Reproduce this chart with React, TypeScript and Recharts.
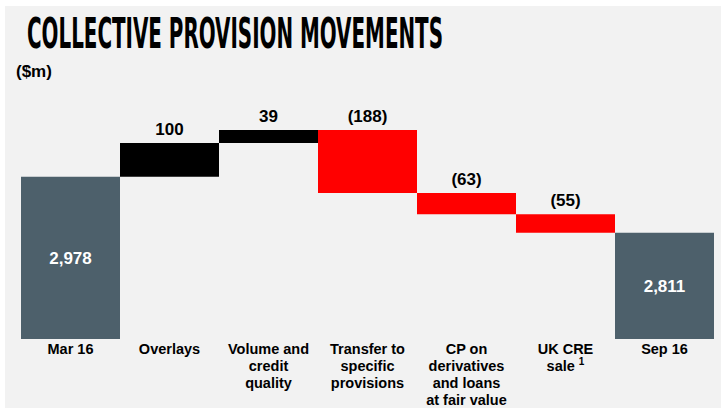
import { Bar, BarChart, Cell, LabelList, XAxis, YAxis } from 'recharts';

const categories = [
  'Mar 16',
  'Overlays',
  'Volume and\ncredit\nquality',
  'Transfer to\nspecific\nprovisions',
  'CP on\nderivatives\nand loans\nat fair value',
  'UK CRE\nsale ^1',
  'Sep 16',
];
const movements = [2978, 100, 39, -188, -63, -55, 2811];
const isTotal = [true, false, false, false, false, false, true];

const TOTAL_COLOR = '#4d606b';
const UP_COLOR = '#000000';
const DOWN_COLOR = '#ff0000';

// waterfall rows: totals are plain numbers, movements are [low, high] ranges
let running = 0;
const data = categories.map((name, i) => {
  const v = movements[i];
  if (isTotal[i]) {
    running = v;
    return { name, range: v, label: v.toLocaleString('en-US'), total: true, up: true };
  }
  const start = running;
  running = start + v;
  return {
    name,
    range: [Math.min(start, running), Math.max(start, running)],
    label: v < 0 ? `(${Math.abs(v)})` : String(v),
    total: false,
    up: v >= 0,
  };
});

const FONT = '"Liberation Sans", Arial, sans-serif';

function CategoryTick(props: any) {
  const { x, y, payload } = props;
  const lines = String(payload.value).split('\n');
  return (
    <text x={x} y={y + 7} textAnchor="middle" fontFamily={FONT} fontWeight="bold" fontSize={14.5} fill="#000">
      {lines.map((l, i) => {
        const [main, sup] = l.split('^');
        return (
          <tspan key={i} x={x} dy={i === 0 ? 0 : 17}>
            {main}
            {sup && (
              <tspan fontSize={10} dy={-6}>
                {sup}
              </tspan>
            )}
          </tspan>
        );
      })}
    </text>
  );
}

function ValueLabel(props: any) {
  const { x, y, width, height, index } = props;
  const row = data[index];
  const cx = x + width / 2;
  if (row.total) {
    return (
      <text x={cx} y={y + height / 2 + 6} textAnchor="middle" fontFamily={FONT} fontWeight="bold" fontSize={17} fill="#fff">
        {row.label}
      </text>
    );
  }
  return (
    <text x={cx} y={y - 8} textAnchor="middle" fontFamily={FONT} fontWeight="bold" fontSize={17} fill="#000">
      {row.label}
    </text>
  );
}

export default function App() {
  return (
    <div style={{ position: 'fixed', left: 0, top: 0, width: 724, height: 408, background: '#fff' }}>
      <div style={{ position: 'absolute', left: 5, top: 6, width: 716, height: 402, background: '#f2f2f2' }} />
      <svg width={724} height={100} style={{ position: 'absolute', left: 0, top: 0 }}>
        <text
          transform="translate(27,48) scale(1,2)"
          x={0}
          y={0}
          fontFamily='"DejaVu Sans Condensed", "Liberation Sans Narrow", sans-serif'
          fontWeight="bold"
          fontSize={21}
          textLength={416}
          lengthAdjust="spacingAndGlyphs"
          fill="#000"
        >
          COLLECTIVE PROVISION MOVEMENTS
        </text>
        <text x={16} y={77} fontFamily={FONT} fontWeight="bold" fontSize={17} fill="#000">
          ($m)
        </text>
      </svg>
      <div style={{ position: 'absolute', left: 0, top: 0 }}>
        <BarChart
          width={724}
          height={408}
          data={data}
          margin={{ top: 102, right: 10, bottom: 0, left: 21 }}
          barCategoryGap={0}
        >
          <XAxis
            dataKey="name"
            interval={0}
            axisLine={false}
            tickLine={false}
            height={69}
            tick={<CategoryTick />}
          />
          <YAxis hide domain={[2495, 3200]} allowDataOverflow />
          <Bar dataKey="range" isAnimationActive={false}>
            {data.map((d, i) => (
              <Cell key={i} fill={d.total ? TOTAL_COLOR : d.up ? UP_COLOR : DOWN_COLOR} />
            ))}
            <LabelList dataKey="label" content={<ValueLabel />} />
          </Bar>
        </BarChart>
      </div>
    </div>
  );
}
